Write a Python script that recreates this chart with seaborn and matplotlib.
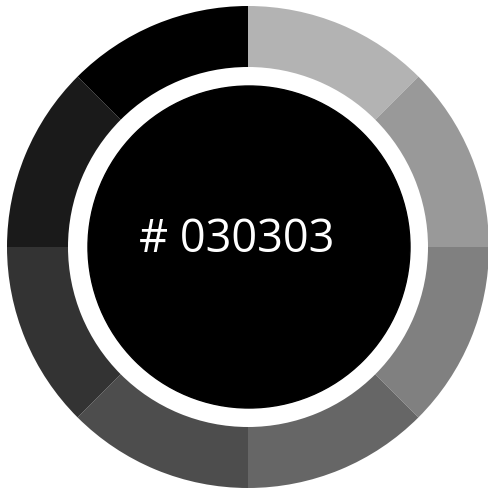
import matplotlib
matplotlib.use("Agg")
import matplotlib.pyplot as plt
import seaborn as sns

sns.set_theme(style="white")
plt.rcParams['font.family'] = ['Open Sans', 'DejaVu Sans']

segments = ["s1", "s2", "s3", "s4", "s5", "s6", "s7", "s8"]
values = [1, 1, 1, 1, 1, 1, 1, 1]
shades = ["#b3b3b3", "#999999", "#808080", "#666666",
          "#4d4d4d", "#333333", "#1a1a1a", "#000000"]
label = "# 030303"

W, H = 488, 491
fig = plt.figure(figsize=(W / 100, H / 100), dpi=100)
ax = fig.add_axes([0, 0, 1, 1])

cx, cy = 248, H - 247
ax.pie(values, colors=sns.color_palette(shades), startangle=90, counterclock=False,
       radius=241, center=(cx, cy), frame=True,
       wedgeprops=dict(width=61, linewidth=0))
ax.set_xlim(0, W)
ax.set_ylim(0, H)
ax.set_aspect('equal')
ax.set_axis_off()
ax.add_patch(plt.Circle((cx + 1, cy), 161, color="#000000", zorder=5))
ax.text(237, H - 240, label, color="white", fontsize=32.5, ha="center", va="center", zorder=6)

fig.savefig("out.png", dpi=100, facecolor="white")
